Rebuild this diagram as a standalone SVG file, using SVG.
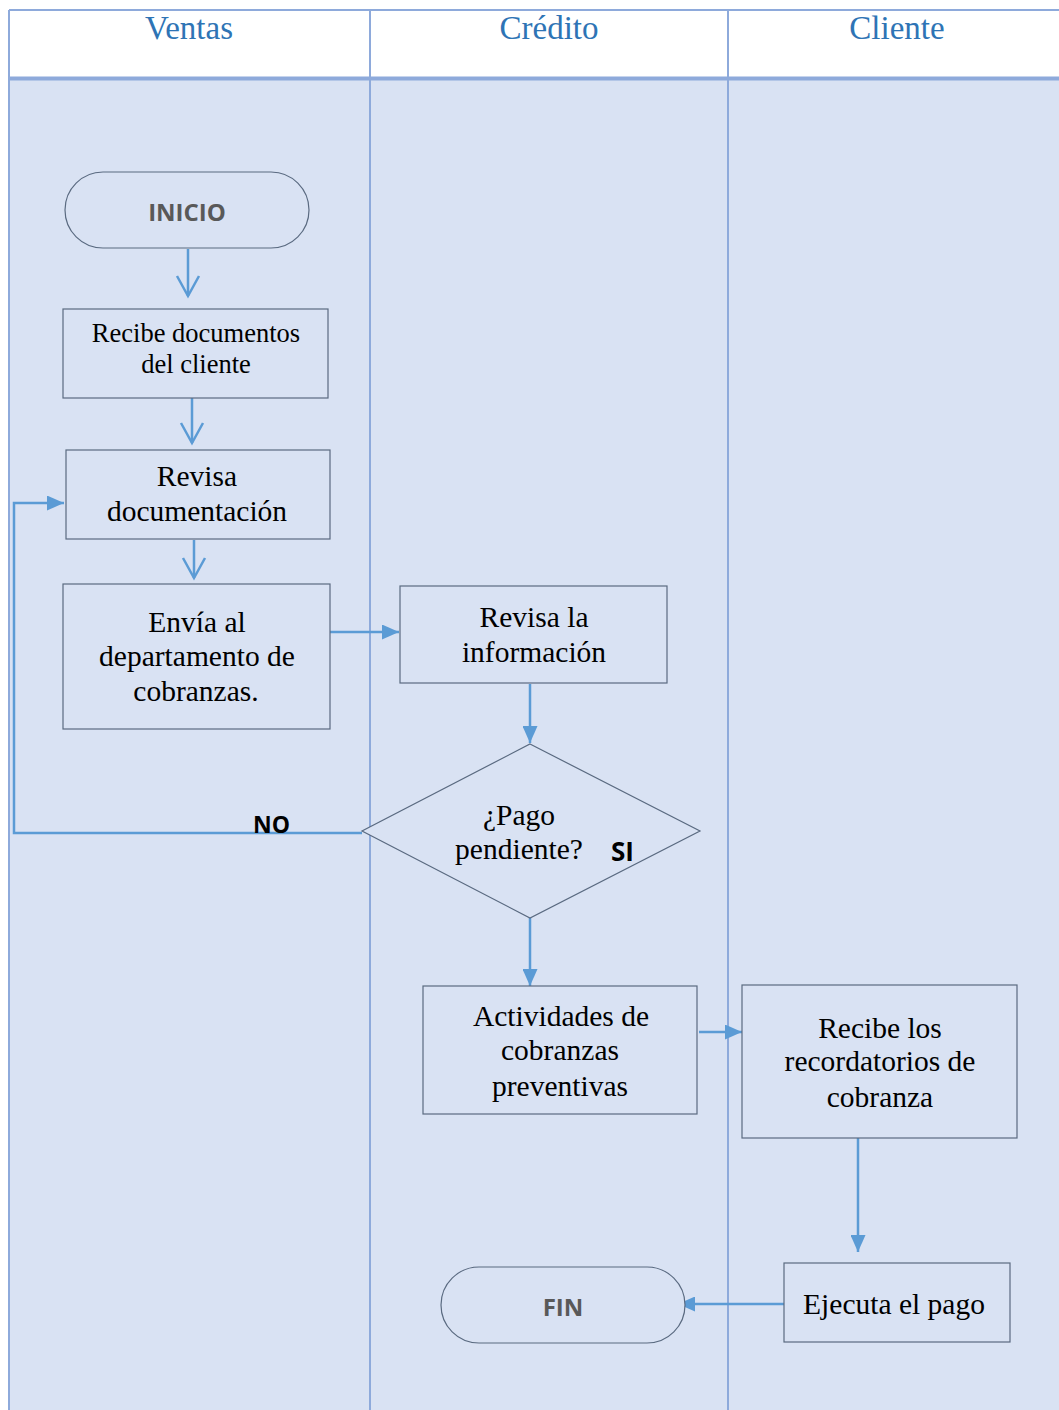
<svg xmlns="http://www.w3.org/2000/svg" width="1059" height="1410" viewBox="0 0 1059 1410">
<style>
.lane{stroke:#8EAADB;stroke-width:2;fill:none}
.hdr{font-family:"Liberation Serif",serif;font-size:33px;fill:#2E74B5;text-anchor:middle}
.box{fill:#D9E2F3;stroke:#5A6A80;stroke-width:1.2}
.t{font-family:"Liberation Serif",serif;font-size:29.5px;fill:#000;text-anchor:middle}
.ts{font-family:"Liberation Serif",serif;font-size:26.5px;fill:#000;text-anchor:middle}
.term{font-family:"Open Sans","Liberation Sans",sans-serif;font-weight:bold;font-size:24px;fill:#595959;text-anchor:middle}
.lbl{font-family:"Open Sans","Liberation Sans",sans-serif;font-weight:bold;font-size:23px;fill:#000}
.c{stroke:#5B9BD5;stroke-width:2.5;fill:none}
</style>
<defs>
<marker id="open" markerWidth="14" markerHeight="14" viewBox="0 0 14 14" refX="12" refY="7" orient="auto" markerUnits="userSpaceOnUse" overflow="visible">
<path d="M-8,-4 L12,7 L-8,18" fill="none" stroke="#5B9BD5" stroke-width="2.5"/>
</marker>
<marker id="fill" markerWidth="17" markerHeight="15" viewBox="0 0 17 15" refX="17" refY="7.5" orient="auto" markerUnits="userSpaceOnUse">
<path d="M0,0 L17,7.5 L0,15 Z" fill="#5B9BD5"/>
</marker>
</defs>
<rect x="0" y="0" width="1059" height="1410" fill="#FFFFFF"/>
<rect x="9" y="79" width="1050" height="1331" fill="#D9E2F3"/>
<g id="lanes">
<line class="lane" x1="9" y1="10" x2="1059" y2="10"/>
<line class="lane" x1="9" y1="10" x2="9" y2="1410"/>
<line class="lane" x1="370" y1="10" x2="370" y2="1410"/>
<line class="lane" x1="728" y1="10" x2="728" y2="1410"/>
<line x1="9" y1="78.5" x2="1059" y2="78.5" stroke="#8EAADB" stroke-width="4"/>
<text class="hdr" x="189" y="39">Ventas</text>
<text class="hdr" x="549" y="39">Crédito</text>
<text class="hdr" x="897" y="39">Cliente</text>
</g>
<g id="connectors">
<line class="c" x1="188" y1="249" x2="188" y2="296" marker-end="url(#open)"/>
<line class="c" x1="192" y1="398" x2="192" y2="443" marker-end="url(#open)"/>
<line class="c" x1="194" y1="540" x2="194" y2="578" marker-end="url(#open)"/>
<line class="c" x1="327" y1="632" x2="399" y2="632" marker-end="url(#fill)"/>
<line class="c" x1="530" y1="684" x2="530" y2="743" marker-end="url(#fill)"/>
<polyline class="c" points="362,833 14,833 14,503 64,503" marker-end="url(#fill)"/>
<line class="c" x1="530" y1="918" x2="530" y2="986" marker-end="url(#fill)"/>
<line class="c" x1="699" y1="1032" x2="742" y2="1032" marker-end="url(#fill)"/>
<line class="c" x1="858" y1="1138" x2="858" y2="1252" marker-end="url(#fill)"/>
<line class="c" x1="784" y1="1304" x2="678" y2="1304" marker-end="url(#fill)"/>
</g>
<g id="inicio">
<rect class="box" x="65" y="172" width="244" height="76" rx="38" ry="38"/>
<text class="term" x="187" y="221">INICIO</text>
</g>
<g id="recibe-documentos">
<rect class="box" x="63" y="309" width="265" height="89"/>
<text class="ts" x="196" y="342">Recibe documentos</text>
<text class="ts" x="196" y="373">del cliente</text>
</g>
<g id="revisa-documentacion">
<rect class="box" x="66" y="450" width="264" height="89"/>
<text class="t" x="197" y="486">Revisa</text>
<text class="t" x="197" y="521">documentación</text>
</g>
<g id="envia">
<rect class="box" x="63" y="584" width="267" height="145"/>
<text class="t" x="197" y="632">Envía al</text>
<text class="t" x="197" y="666">departamento de</text>
<text class="t" x="196" y="701">cobranzas.</text>
</g>
<g id="revisa-informacion">
<rect class="box" x="400" y="586" width="267" height="97"/>
<text class="t" x="534" y="627">Revisa la</text>
<text class="t" x="534" y="662">información</text>
</g>
<g id="decision">
<polygon class="box" points="530,744 700,831 530,918 362,831"/>
<text class="t" x="519" y="825">¿Pago</text>
<text class="t" x="519" y="859">pendiente?</text>
</g>
<g id="actividades">
<rect class="box" x="423" y="986" width="274" height="128"/>
<text class="t" x="561" y="1026">Actividades de</text>
<text class="t" x="560" y="1060">cobranzas</text>
<text class="t" x="560" y="1096">preventivas</text>
</g>
<g id="recordatorios">
<rect class="box" x="742" y="985" width="275" height="153"/>
<text class="t" x="880" y="1038">Recibe los</text>
<text class="t" x="880" y="1071">recordatorios de</text>
<text class="t" x="880" y="1107">cobranza</text>
</g>
<g id="ejecuta">
<rect class="box" x="784" y="1263" width="226" height="79"/>
<text class="t" x="894" y="1314">Ejecuta el pago</text>
</g>
<g id="fin">
<rect class="box" x="441" y="1267" width="244" height="76" rx="38" ry="38"/>
<text class="term" x="563" y="1316">FIN</text>
</g>
<g id="labels">
<text class="lbl" x="253" y="833">NO</text>
<text class="lbl" x="611" y="861" style="font-size:26px">SI</text>
</g>
</svg>
